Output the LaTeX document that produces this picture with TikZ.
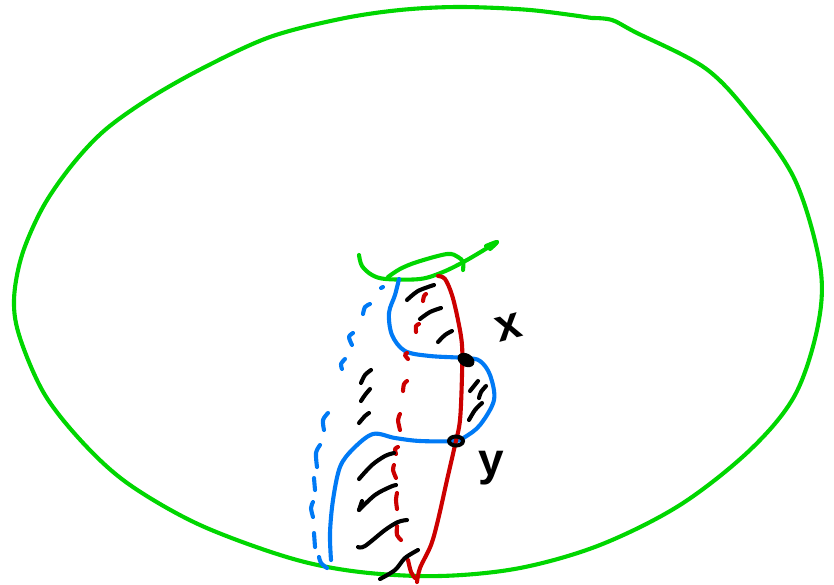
\documentclass[tikz,border=0pt]{standalone}
\usepackage{fontspec}
\setmainfont{Liberation Sans}
\definecolor{gr}{RGB}{0,214,0}
\definecolor{bl}{RGB}{0,122,245}
\definecolor{rd}{RGB}{204,0,0}
\tikzset{
  pen/.style={line width=4.1pt,line cap=round,line join=round},
  grn/.style={pen,draw=gr},
  blu/.style={pen,draw=bl},
  red/.style={pen,draw=rd},
  blk/.style={pen,draw=black},
  lab/.style={inner sep=0pt,font=\bfseries\fontsize{46pt}{46pt}\selectfont,text=black}
}
\newcommand{\sk}[2]{\draw[#1] plot[smooth,tension=0.55] coordinates {#2};}
\begin{document}
\begin{tikzpicture}[x=1pt,y=-1pt]
\useasboundingbox (0,0) rectangle (834,584);
% outer outline
\sk{grn}{(592,18) (530,10) (460,7) (400,10) (340,19) (270,37) (205,67) (150,98) (105,130) (72,165) (43,207) (22,255) (14,300) (20,338) (45,395) (85,445) (130,485) (200,525) (290,558) (360,572) (440,576) (520,568) (600,545) (680,505) (750,450) (795,395) (818,325) (820,265) (795,180) (750,115) (705,68) (635,32) (612,20) (592,18)}
% top loop and arrow
\sk{grn}{(359,255) (362,266) (372,275) (386,279) (420,279) (443,272) (467,260) (497,242)}
\sk{grn}{(388,277) (400,269) (417,262) (447,254) (458,257) (463,262) (463,270)}
\sk{grn}{(486,246) (497,242) (490,249)}
% solid blue
\sk{blu}{(399,279) (395,295) (389,313) (392,335) (405,351) (430,356) (466,358) (480,361) (490,375) (494,400) (480,425) (465,437) (455,441) (420,441) (395,438) (373,434) (353,449) (340,467) (333,500) (330,533) (331,560)}
% dashed blue
\sk{blu}{(381,288) (383,287)}
\sk{blu}{(363,314) (365,307) (370,304)}
\sk{blu}{(352,345) (349,337) (353,333)}
\sk{blu}{(342,369) (341,364) (345,359)}
\sk{blu}{(324,430) (323,420) (328,413)}
\sk{blu}{(317,467) (316,453) (320,445)}
\sk{blu}{(315,490) (314,478)}
\sk{blu}{(313,517) (311,508) (313,502)}
\sk{blu}{(315,547) (314,533)}
\sk{blu}{(319,557) (321,563) (327,568)}
% solid red
\sk{rd,pen}{(438,276) (445,279) (452,295) (458,320) (462,345) (462,375) (460,420) (455,445) (447,480) (438,520) (431,545) (420,568) (417,582)}
\sk{rd,pen}{(408,560) (411,572) (415,578)}
% dashed red
\sk{red}{(423,301) (424,296) (426,294)}
\sk{red}{(416,332) (416,326) (419,324)}
\sk{red}{(408,359) (405,355) (407,353)}
\sk{red}{(403,391) (404,384) (407,381)}
\sk{red}{(400,430) (398,420) (400,414)}
\sk{red}{(396,454) (395,449) (398,447)}
\sk{red}{(396,478) (393,470) (394,465)}
\sk{red}{(397,509) (396,500) (397,493)}
\sk{red}{(401,540) (397,535) (397,526)}
% hatching
\sk{blk}{(407,300) (418,291) (434,285)}
\sk{blk}{(420,319) (430,312) (441,308)}
\sk{blk}{(438,342) (445,335) (452,331)}
\sk{blk}{(361,383) (365,375) (371,370)}
\sk{blk}{(361,401) (365,395) (370,389)}
\sk{blk}{(359,423) (365,416) (369,413)}
\sk{blk}{(470,391) (478,381)}
\sk{blk}{(479,398) (481,392) (486,386)}
\sk{blk}{(469,420) (475,410) (482,403)}
\sk{blk}{(359,479) (372,465) (385,456) (394,453)}
\sk{blk}{(359,510) (375,495) (390,487) (396,485)}
\sk{blk}{(359,510) (362,501)}
\sk{blk}{(358,547) (365,546) (385,530) (398,522) (407,520)}
\sk{blk}{(380,579) (395,570) (405,558) (418,550)}
% crossing points
\fill[black,rotate around={-30:(466,360)}] (466,360) ellipse [x radius=9pt,y radius=6.5pt];
\draw[black,line width=4pt] (456,441) ellipse [x radius=7pt,y radius=4.5pt];
\fill[rd] (456,441) circle (1.5pt);
% labels
\node[lab,rotate=15] (x) at (509,327) {x};
\node[lab] (y) at (491,468) {y};
\end{tikzpicture}
\end{document}
